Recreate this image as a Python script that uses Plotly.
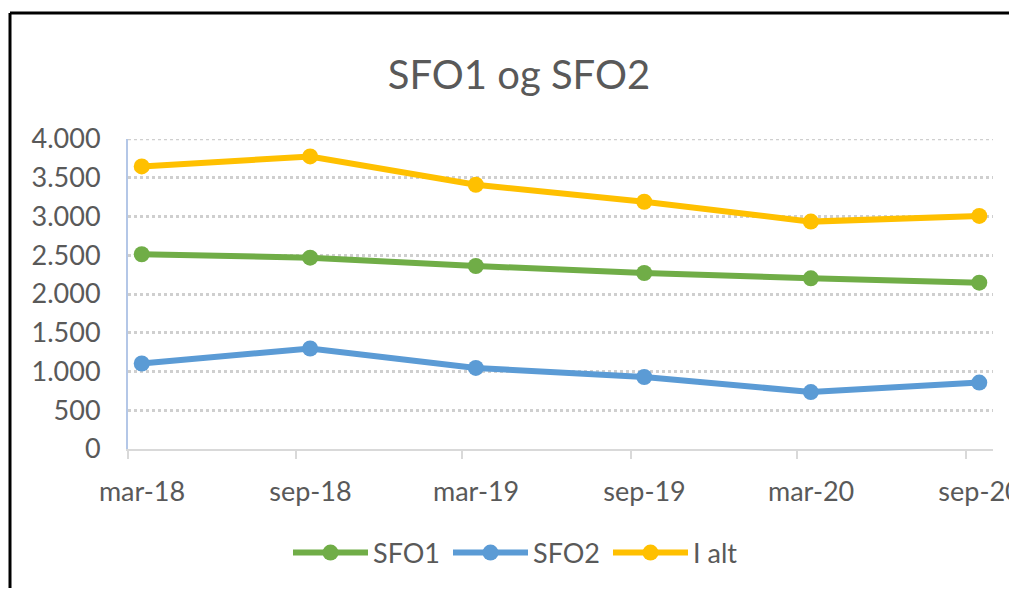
import pandas as pd
import plotly.graph_objects as go

periods = ["2018-03", "2018-09", "2019-03", "2019-09", "2020-03", "2020-09"]
tick_labels = ["mar-18", "sep-18", "mar-19", "sep-19", "mar-20", "sep-20"]
sfo1 = [2513, 2469, 2361, 2271, 2202, 2146]
sfo2 = [1103, 1297, 1046, 929, 735, 857]
i_alt = [3646, 3775, 3410, 3190, 2934, 3008]

starts = pd.to_datetime([p + "-01" for p in periods])
mids = starts + pd.Timedelta(days=15)

OFF = 8  # default page body margin
W, H = 1017 - OFF, 596 - 2 * OFF
# plot area in screen pixels, converted to figure pixels
L, R, T, B = 128 - OFF, 993 - OFF, 139 - OFF, 449 - OFF

fig = go.Figure()
for name, vals, col in [("SFO1", sfo1, "#70AD47"), ("SFO2", sfo2, "#5B9BD5"), ("I alt", i_alt, "#FFC000")]:
    fig.add_trace(go.Scatter(x=mids, y=vals, name=name, mode="lines+markers",
                             line=dict(color=col, width=6),
                             marker=dict(color=col, size=16)))

def px_x(p):
    return (p - OFF - L) / (R - L)

def px_y(p):
    return (B - (p - OFF)) / (B - T)

fig.update_layout(
    width=W, height=H,
    margin=dict(l=L, r=W - R, t=T, b=H - B, autoexpand=False),
    paper_bgcolor="white", plot_bgcolor="white",
    separators=",.",
    font=dict(family="Lato", color="#595959", size=27),
    title=dict(text="SFO1 og SFO2", x=(519 - OFF) / W, xref="container", xanchor="center",
               y=1 - (75 - OFF) / H, yref="container", yanchor="middle",
               font=dict(size=40, color="#595959", family="Lato")),
    showlegend=True,
    legend=dict(orientation="h", x=px_x(528), xanchor="center", y=px_y(553), yanchor="middle",
                font=dict(size=27, color="#595959"), itemwidth=75,
                entrywidth=70, entrywidthmode="pixels", traceorder="normal"),
    xaxis=dict(type="date", range=[pd.Timestamp("2018-03-01"), pd.Timestamp("2020-10-01")],
               tickvals=list(starts), ticktext=tick_labels, ticklabelshift=14,
               ticklabeloverflow="allow", automargin=False,
               ticks="outside", ticklen=8, tickwidth=2, tickcolor="#D9D9D9",
               showline=True, linecolor="#D9D9D9", linewidth=2, showgrid=False,
               zeroline=False, ticklabelstandoff=10, fixedrange=True),
    yaxis=dict(range=[0, 4000], dtick=500, tickformat=",d", showgrid=True,
               gridcolor="#CFCFCF", griddash="dot", gridwidth=2.5, automargin=False,
               showline=True, linecolor="#B4C7E7", linewidth=2, zeroline=False,
               ticks="", ticklabelstandoff=20, fixedrange=True),
)

# top gridline at the axis maximum
fig.add_shape(type="line", xref="paper", yref="y", x0=0, x1=1, y0=4000, y1=4000,
              line=dict(color="#CFCFCF", width=2.5, dash="dot"), layer="below")

# outer chart frame: only left and top edges are visible in the reference
fig.add_shape(type="line", xref="paper", yref="paper",
              x0=px_x(10), x1=px_x(10), y0=px_y(588), y1=px_y(13),
              line=dict(color="black", width=3), layer="above")
fig.add_shape(type="line", xref="paper", yref="paper",
              x0=px_x(10), x1=px_x(1017), y0=px_y(13), y1=px_y(13),
              line=dict(color="black", width=3), layer="above")

fig.write_html("out.html", config={"displayModeBar": False})
